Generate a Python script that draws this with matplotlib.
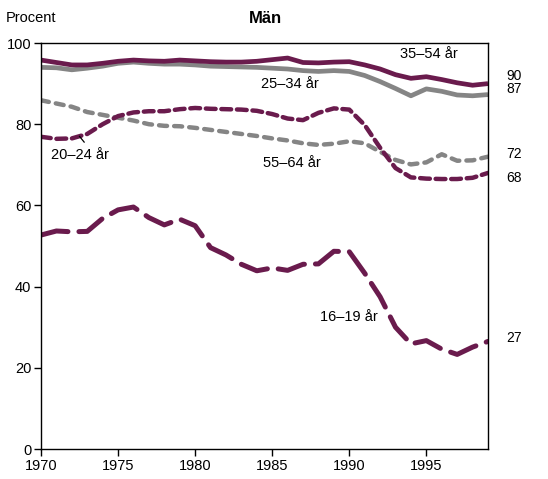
import numpy as np
import matplotlib.pyplot as plt

plt.rcParams['font.family'] = ['Liberation Sans', 'DejaVu Sans']

# Data (procent), 1970-1999
years = list(range(1970, 2000))
age_35_54 = [95.8, 95.2, 94.6, 94.6, 95.0, 95.5, 95.8, 95.6, 95.5, 95.8, 95.6, 95.4,
             95.3, 95.3, 95.5, 95.9, 96.3, 95.2, 95.1, 95.3, 95.4, 94.6, 93.6, 92.2,
             91.3, 91.7, 91.0, 90.2, 89.6, 90.0]
age_25_34 = [94.0, 93.9, 93.4, 93.8, 94.3, 95.0, 95.3, 95.0, 94.8, 94.8, 94.6, 94.3,
             94.2, 94.1, 94.0, 93.8, 93.6, 93.2, 93.0, 93.2, 93.0, 92.0, 90.5, 88.8,
             87.0, 88.7, 88.1, 87.2, 87.0, 87.3]
age_20_24 = [76.9, 76.4, 76.5, 77.6, 80.0, 82.0, 82.9, 83.2, 83.2, 83.7, 84.0, 83.8,
             83.7, 83.6, 83.3, 82.5, 81.4, 81.0, 82.8, 83.9, 83.6, 79.8, 74.2, 69.2,
             66.9, 66.6, 66.5, 66.5, 66.8, 68.0]
age_55_64 = [85.9, 85.1, 84.3, 83.0, 82.3, 81.6, 80.9, 80.0, 79.6, 79.5, 79.1, 78.6,
             78.1, 77.6, 77.1, 76.5, 76.0, 75.3, 74.9, 75.2, 75.8, 75.3, 73.2, 71.2,
             70.1, 70.6, 72.6, 71.0, 71.1, 72.0]
age_16_19 = [52.7, 53.7, 53.5, 53.6, 56.8, 58.9, 59.6, 57.0, 55.2, 56.6, 55.0, 49.6,
             47.8, 45.5, 43.9, 44.6, 44.0, 45.5, 45.6, 48.7, 48.6, 43.3, 37.5, 30.0,
             25.9, 26.7, 24.6, 23.3, 25.1, 26.5]

end_labels = ['90', '87', '72', '68', '27']
end_y = [91.8, 88.6, 72.7, 66.8, 27.3]

purple = '#6a1b4d'
grey = '#858585'

fig = plt.figure(figsize=(5.48, 4.79), dpi=100)
ax = fig.add_axes([0.0748, 0.0626, 0.8157, 0.8476])

ax.plot(years, age_25_34, color=grey, lw=3.4, solid_capstyle='butt')
ax.plot(years, age_35_54, color=purple, lw=3.4, solid_capstyle='butt')
ax.plot(years, age_55_64, color=grey, lw=3.2, dashes=(1.8, 1.6), dash_capstyle='round')
ax.plot(years, age_20_24, color=purple, lw=3.2, dashes=(2.2, 1.3), dash_capstyle='round')
ax.plot(years, age_16_19, color=purple, lw=3.6, dashes=(5.5, 2.2), dash_capstyle='round')

ax.set_xlim(1970, 1999)
ax.set_ylim(0, 100)
ax.set_xticks([1970, 1975, 1980, 1985, 1990, 1995])
ax.set_yticks([0, 20, 40, 60, 80, 100])
ax.tick_params(direction='out', length=5, width=1, labelsize=10.5, pad=2)
for s in ax.spines.values():
    s.set_linewidth(1)

# etiketter för serierna
ax.text(1984.3, 89.9, '25–34 år', fontsize=10.5, va='center')
ax.text(1993.3, 97.3, '35–54 år', fontsize=10.5, va='center')
ax.text(1970.65, 72.4, '20–24 år', fontsize=10.5, va='center')
ax.text(1984.4, 70.4, '55–64 år', fontsize=10.5, va='center')
ax.text(1988.1, 32.6, '16–19 år', fontsize=10.5, va='center')
ax.plot([1972.5, 1972.8], [77.0, 75.6], color='black', lw=0.9)

for lab, yv in zip(end_labels, end_y):
    ax.text(2000.2, yv, lab, fontsize=10, va='center', clip_on=False)

fig.text(0.01, 0.948, 'Procent', fontsize=10.5, va='bottom')
fig.text(0.485, 0.945, 'Män', fontsize=12, fontweight='bold', ha='center', va='bottom')

fig.savefig('out.png', dpi=100)
